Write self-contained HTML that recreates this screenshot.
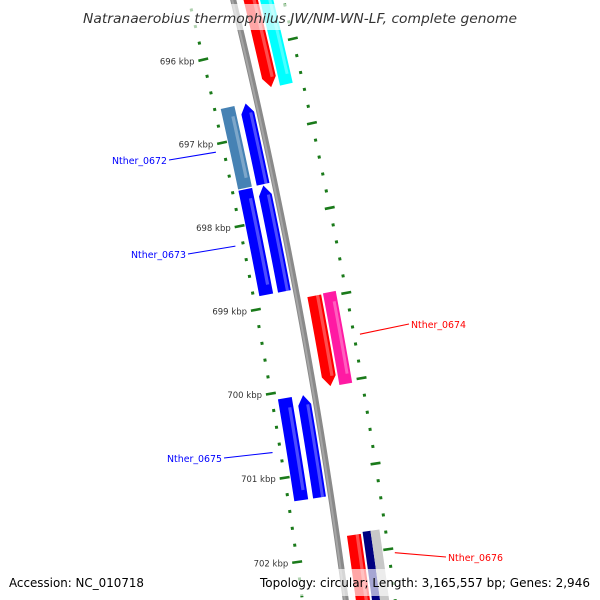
<!DOCTYPE html>
<html><head><meta charset="utf-8"><style>
html,body{margin:0;padding:0;background:#fff;width:600px;height:600px;overflow:hidden;}
svg{display:block;}
text{font-family:"DejaVu Sans","Liberation Sans",sans-serif;}
</style></head><body>
<svg id="map" width="600" height="600" viewBox="0 0 600 600" xmlns="http://www.w3.org/2000/svg" overflow="hidden">
<g id="rings"></g>
<g id="backbone"></g>
<g id="genes"></g>
<g id="labels"></g>
<rect x="80" y="4" width="440" height="26" fill="#fff" opacity="0.65"/>
<text x="300" y="23" text-anchor="middle" font-size="13.5" font-style="italic" fill="#333" textLength="434" lengthAdjust="spacingAndGlyphs">Natranaerobius thermophilus JW/NM-WN-LF, complete genome</text>
<rect x="0" y="569" width="600" height="27" fill="#fff" opacity="0.65"/>
<text x="9" y="587" font-size="12.5" fill="#000" textLength="135" lengthAdjust="spacingAndGlyphs">Accession: NC_010718</text>
<text x="590" y="587" text-anchor="end" font-size="12.5" fill="#000" textLength="330" lengthAdjust="spacingAndGlyphs">Topology: circular; Length: 3,165,557 bp; Genes: 2,946</text>
</svg>
<script>
// ---- data ----
const tickKbp = [696, 697, 698, 699, 700, 701, 702];
const geneNames = ["Nther_0671", "Nther_0672", "Nther_0673", "Nther_0674", "Nther_0675", "Nther_0676"];
const geneStarts = [694500, 696610, 697590, 698965, 700080, 701780];
const geneEnds = [696490, 697575, 698850, 700030, 701290, 703500];
const geneStrands = [1, -1, -1, 1, -1, 1];
const cogColors = ["#00ffff", "#4682b4", "#0000ff", "#ff1aa3", "#0000ff", "#000080"];
const labelled = [false, true, true, true, true, true];

// ---- geometry ----
const CX = -5357, CY = 1358.7;
const A0 = -10.585, DEG_PER_KBP = 0.855;
const R_BACK = 5753, R_LRING = 5710, R_RRING = 5802;
const NS = "http://www.w3.org/2000/svg";
function ang(bp){ return (A0 + (bp - 699000) / 1000 * DEG_PER_KBP) * Math.PI / 180; }
function pt(bp, r){ const a = ang(bp); return [CX + r * Math.cos(a), CY + r * Math.sin(a)]; }
function mk(tag, attrs, parent){ const e = document.createElementNS(NS, tag); for (const k in attrs) e.setAttribute(k, attrs[k]); parent.appendChild(e); return e; }
function arcPts(b1, b2, r, n){ const p = []; for (let i = 0; i <= n; i++) p.push(pt(b1 + (b2 - b1) * i / n, r)); return p; }
function poly(points){ return points.map(p => p[0].toFixed(2) + "," + p[1].toFixed(2)).join(" "); }

const rings = document.getElementById("rings");
const back = document.getElementById("backbone");
const genesG = document.getElementById("genes");
const labelsG = document.getElementById("labels");

// backbone
let bb = mk("polyline", {points: poly(arcPts(694800, 703300, R_BACK, 40)), fill: "none", stroke: "#8a8a8a", "stroke-width": 6}, back);


let bb2 = mk("polyline", {points: poly(arcPts(694800, 703300, R_BACK - 1, 40)), fill: "none", stroke: "#a5a5a5", "stroke-width": 2}, back);



// ring dots and ticks
for (let bp = 695200; bp <= 703000; bp += 200) {
  const major = bp % 1000 === 0;
  [R_LRING, R_RRING].forEach(r => {
    const len = major ? 5 : 1.5;
    const p1 = pt(bp, r - len), p2 = pt(bp, r + len);
    const ln = mk("line", {x1: p1[0], y1: p1[1], x2: p2[0], y2: p2[1], stroke: "#1a7a1a", "stroke-width": major ? 2.6 : 3}, rings);
    
    
  });
}
// tick labels
tickKbp.forEach(k => {
  const p = pt(k * 1000, R_LRING - 9);
  const t = mk("text", {x: p[0], y: p[1] + 3, "text-anchor": "end", "font-size": "8.5", fill: "#333"}, rings);
  t.textContent = k + " kbp";
  
  
});

// genes
const AR = 115; // arrowhead length in bp
function geneShape(s, e, r1, r2, strand, color, hl, name){
  let pts;
  const rm = (r1 + r2) / 2;
  if (strand === 1) {
    pts = arcPts(s, e - AR, r1, 10).concat([pt(e, rm)]).concat(arcPts(e - AR, s, r2, 10));
  } else if (strand === -1) {
    pts = [pt(s, rm)].concat(arcPts(s + AR, e, r1, 10)).concat(arcPts(e, s + AR, r2, 10));
  } else {
    pts = arcPts(s, e, r1, 10).concat(arcPts(e, s, r2, 10));
  }
  const g = mk("polygon", {points: poly(pts), fill: color}, genesG);
  
  
  if (hl) {
    const a = strand === 1 ? s : s + AR, b = strand === -1 ? e : e - AR;
    const h = mk("polygon", {points: poly(arcPts(a, b, r1 + (r2 - r1) * 0.62, 6).concat(arcPts(b, a, r1 + (r2 - r1) * 0.85, 6))), fill: "#fff", opacity: 0.3}, genesG);
    
    
  }
}
for (let i = 0; i < geneNames.length; i++) {
  const s = geneStarts[i], e = geneEnds[i];
  if (geneStrands[i] === 1) {
    geneShape(s, e, R_BACK + 10, R_BACK + 24, 1, "#ff0000", true, geneNames[i].toLowerCase() + "-cds");
    if (i === 5) {
      geneShape(s - 20, e, R_BACK + 26, R_BACK + 34, 0, cogColors[i], false, geneNames[i].toLowerCase() + "-cog");
      geneShape(s - 20, e, R_BACK + 34, R_BACK + 43, 0, "#c8c8c8", false, geneNames[i].toLowerCase() + "-cog2");
    } else {
      geneShape(s - 10, e + 5, R_BACK + 26, R_BACK + 39, 0, cogColors[i], true, geneNames[i].toLowerCase() + "-cog");
    }
  } else {
    geneShape(s, e, R_BACK - 18, R_BACK - 5, -1, "#0000ff", true, geneNames[i].toLowerCase() + "-cds");
    geneShape(s, e, R_BACK - 37, R_BACK - 23, 0, cogColors[i], true, geneNames[i].toLowerCase() + "-cog");
  }
}

// labels (label anchor positions)
const labelX = [0, 112, 131, 411, 167, 448];
const labelY = [0, 164, 258, 328, 462, 561];
for (let i = 0; i < geneNames.length; i++) {
  if (!labelled[i]) continue;
  const mid = (geneStarts[i] + Math.min(geneEnds[i], 702000)) / 2;
  const fwd = geneStrands[i] === 1;
  const anchorBp = i === 5 ? 702050 : mid;
  const p = pt(anchorBp, fwd ? R_RRING + 6 : R_LRING - 8);
  const col = fwd ? "#ff0000" : "#0000ff";
  const lx = fwd ? labelX[i] - 2 : labelX[i] + 57;
  const ln = mk("line", {x1: p[0], y1: p[1], x2: lx, y2: labelY[i] - 4, stroke: col, "stroke-width": 1.1}, labelsG);
  
  
  const t = mk("text", {x: labelX[i], y: labelY[i], "font-size": "10", fill: col, textLength: 55, lengthAdjust: "spacingAndGlyphs"}, labelsG);
  t.textContent = geneNames[i];
  
  
}
</script>
</body></html>
